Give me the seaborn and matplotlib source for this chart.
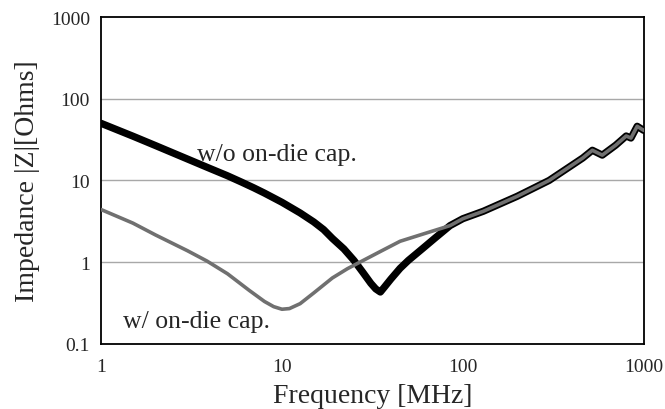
import numpy as np
import pandas as pd
import seaborn as sns
import matplotlib.pyplot as plt

# impedance readings, w/o on-die capacitor
freq_wo = [1, 1.5, 2, 3, 4, 5, 6, 7, 8, 10, 12.6, 15, 17, 19, 22, 25, 28, 31, 33, 35,
           37, 40, 45, 50, 60, 70, 85, 100, 130, 200, 300, 460, 520, 590, 700, 800,
           850, 920, 1000]
z_wo = [50, 34.8, 26.7, 18.3, 14.0, 11.4, 9.5, 8.1, 7.0, 5.4, 4.0, 3.1, 2.5, 1.95, 1.45,
        1.05, 0.75, 0.55, 0.47, 0.43, 0.5, 0.62, 0.84, 1.05, 1.47, 1.96, 2.8, 3.4,
        4.2, 6.4, 10, 18.8, 23.4, 20.4, 27, 35, 33, 46, 41]

# impedance readings, w/ on-die capacitor
freq_w = [1, 1.5, 2, 3, 3.85, 5, 6.6, 8, 9, 10, 11, 12.6, 15, 19, 23, 27, 35, 45,
          60, 85, 100, 130, 200, 300, 460, 520, 590, 700, 800, 850, 920, 1000]
z_w = [4.4, 3.0, 2.15, 1.38, 1.03, 0.72, 0.45, 0.33, 0.285, 0.265, 0.27, 0.31, 0.42,
       0.64, 0.83, 1.0, 1.35, 1.8, 2.2, 2.8, 3.4, 4.2, 6.4, 10, 18.8, 23.4, 20.4,
       27, 35, 33, 46, 41]

x_ticks = [1, 10, 100, 1000]
y_ticks = [0.1, 1, 10, 100, 1000]
x_labels = ["1", "10", "100", "1000"]
y_labels = ["0.1", "1", "10", "100", "1000"]

df_wo = pd.DataFrame({"Frequency": freq_wo, "Z": z_wo})
df_w = pd.DataFrame({"Frequency": freq_w, "Z": z_w})

sns.set_style("white")
plt.rcParams["font.family"] = ["Liberation Serif", "DejaVu Serif"]

fig = plt.figure(figsize=(6.65, 4.10), dpi=100)
ax = fig.add_axes([0.152, 0.159, 0.816, 0.797])

# horizontal grid lines only
for yv in [1, 10, 100]:
    ax.axhline(yv, color="#a8a8a8", lw=1.0, zorder=0)

sns.lineplot(data=df_wo, x="Frequency", y="Z", color="black", lw=5.2, ax=ax,
             solid_capstyle="round", zorder=2)
sns.lineplot(data=df_w, x="Frequency", y="Z", color="#707070", lw=2.6, ax=ax,
             solid_capstyle="round", zorder=3)

ax.set_xscale("log")
ax.set_yscale("log")
ax.set_xlim(1, 1000)
ax.set_ylim(0.1, 1000)
ax.set_xticks(x_ticks)
ax.set_xticklabels(x_labels)
ax.set_yticks(y_ticks)
ax.set_yticklabels(y_labels)
ax.minorticks_off()
ax.tick_params(axis="x", direction="in", length=4, color="#999999", labelsize=14, pad=10)
ax.tick_params(axis="y", length=0, labelsize=14, pad=8)

for s in ax.spines.values():
    s.set_color("black")
    s.set_linewidth(1.3)

ax.set_xlabel("Frequency [MHz]", fontsize=20, labelpad=6)
ax.set_ylabel("Impedance |Z|[Ohms]", fontsize=20, labelpad=8)

ax.text(3.4, 21, "w/o on-die cap.", fontsize=18.5, ha="left", va="center")
ax.text(1.32, 0.19, "w/ on-die cap.", fontsize=18.5, ha="left", va="center")

fig.savefig("out.png", dpi=100)
